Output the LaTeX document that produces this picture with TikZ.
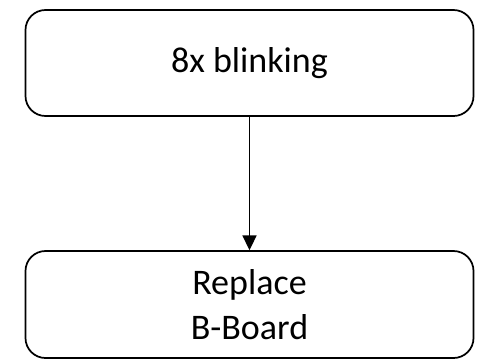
\documentclass[tikz,border=0pt]{standalone}
\usepackage{fontspec}
\setmainfont{Carlito}
\usetikzlibrary{arrows.meta}
\begin{document}
\begin{tikzpicture}[x=0.75pt,y=-0.75pt,
  box/.style={draw=black,line width=1.3pt,rounded corners=15pt,fill=white,
    minimum width=336pt,align=center,inner sep=0pt,
    font=\fontsize{27pt}{33.75pt}\selectfont},
  conn/.style={line width=1.3pt,-{Triangle[length=11pt,width=10.5pt]}}]
\useasboundingbox (0,0) rectangle (478,361);
\node[box,minimum height=79.5pt] (top) at (249.5,63) {8x blinking};
\node[box,minimum height=80.25pt] (bot) at (249.5,304.5) {Replace\\B-Board};
\draw[conn] (top.south) -- (bot.north);
\end{tikzpicture}
\end{document}
